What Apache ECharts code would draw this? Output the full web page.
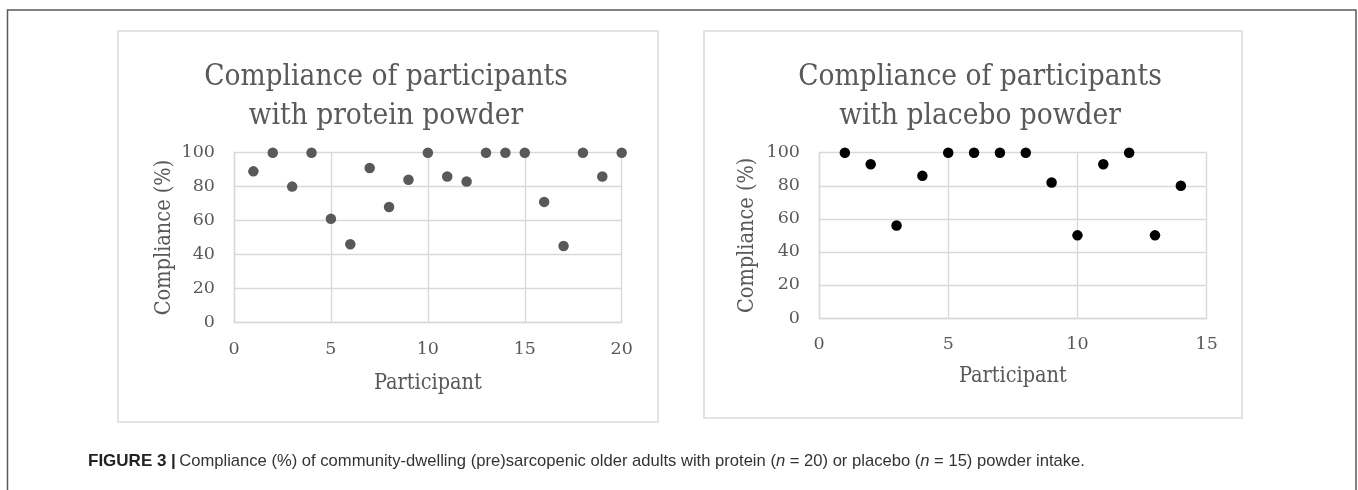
<!DOCTYPE html>
<html>
<head>
<meta charset="utf-8">
<script src="https://cdn.jsdelivr.net/npm/echarts@6/dist/echarts.min.js"></script>
<style>
html,body{margin:0;padding:0;background:#fff;}
#c{width:1358px;height:490px;}
</style>
</head>
<body>
<div id="c"></div>
<script>
// ---- data ----
var proteinParticipants = [1,2,3,4,5,6,7,8,9,10,11,12,13,14,15,16,17,18,19,20];
var proteinCompliance   = [89,100,80,100,61,46,91,68,84,100,86,83,100,100,100,71,45,100,86,100];
var placeboParticipants = [1,2,3,4,5,6,7,8,9,10,11,12,13,14];
var placeboCompliance   = [100,93,56,86,100,100,100,100,82,50,93,100,50,80];
var xTicksProtein = [0,5,10,15,20];
var xTicksPlacebo = [0,5,10,15];
var yTicks = [0,20,40,60,80,100];
var titleProtein = 'Compliance of participants\nwith protein powder';
var titlePlacebo = 'Compliance of participants\nwith placebo powder';
var yName = 'Compliance (%)';
var xName = 'Participant';

function pairs(xs, ys){ return xs.map(function(x,i){ return [x, ys[i]]; }); }

// font availability check (style only)
function hasFont(name){
  var cv = document.createElement('canvas').getContext('2d');
  var s = 'Compliance of participants 0123456789';
  cv.font = '40px monospace'; var a = cv.measureText(s).width;
  cv.font = '40px "' + name + '", monospace'; var b = cv.measureText(s).width;
  return Math.abs(a - b) > 0.5;
}
var cond = hasFont('DejaVu Serif Condensed');
var titleFont = cond ? '"DejaVu Serif Condensed", serif' : '"Liberation Serif", serif';
var titleSize = cond ? 29.5 : 33.5;
var nameSize  = cond ? 21.5 : 23;
var tickFont  = '"DejaVu Serif", "Liberation Serif", serif';
var tickSize  = 17.5;

var txt = '#595959';
var gridCol = '#d9d9d9';

function xAxis(idx, ticks, nameGap, margin){
  return {
    type:'value', gridIndex:idx, min:ticks[0], max:ticks[ticks.length-1], interval:ticks[1]-ticks[0],
    name:xName, nameLocation:'middle', nameGap:nameGap,
    nameTextStyle:{fontFamily:titleFont, fontSize:nameSize, color:txt},
    axisLine:{show:true, onZero:false, lineStyle:{color:gridCol, width:1.4}},
    axisTick:{show:false},
    axisLabel:{fontFamily:tickFont, fontSize:tickSize, color:txt, margin:margin},
    splitLine:{show:true, lineStyle:{color:gridCol, width:1.4}}
  };
}
function yAxis(idx, nameGap){
  return {
    type:'value', gridIndex:idx, min:yTicks[0], max:yTicks[yTicks.length-1], interval:yTicks[1]-yTicks[0],
    name:yName, nameLocation:'middle', nameGap:nameGap, nameRotate:90,
    nameTextStyle:{fontFamily:titleFont, fontSize:nameSize, color:txt},
    axisLine:{show:true, onZero:false, lineStyle:{color:gridCol, width:1.4}},
    axisTick:{show:false},
    axisLabel:{fontFamily:tickFont, fontSize:tickSize, color:txt, margin:19},
    splitLine:{show:true, lineStyle:{color:gridCol, width:1.4}}
  };
}

var chart = echarts.init(document.getElementById('c'), null, {renderer:'canvas'});
chart.setOption({
  animation:false,
  backgroundColor:'#fff',
  title:[
    {text:titleProtein, left:381, top:53, textAlign:'center',
     textStyle:{fontFamily:titleFont, fontSize:titleSize, fontWeight:'normal', color:txt, lineHeight:39}},
    {text:titlePlacebo, left:975, top:53, textAlign:'center',
     textStyle:{fontFamily:titleFont, fontSize:titleSize, fontWeight:'normal', color:txt, lineHeight:39}}
  ],
  grid:[
    {left:234, top:152.7, width:387.7, height:169.6},
    {left:819, top:152.7, width:387.7, height:165.3}
  ],
  xAxis:[ xAxis(0, xTicksProtein, 50, 18), xAxis(1, xTicksPlacebo, 47, 17) ],
  yAxis:[ yAxis(0, 59), yAxis(1, 61) ],
  series:[
    {type:'scatter', xAxisIndex:0, yAxisIndex:0, data:pairs(proteinParticipants, proteinCompliance),
     symbolSize:10.5, itemStyle:{color:'#595959', opacity:1}},
    {type:'scatter', xAxisIndex:1, yAxisIndex:1, data:pairs(placeboParticipants, placeboCompliance),
     symbolSize:10.5, itemStyle:{color:'#000000', opacity:1}}
  ],
  graphic:[
    {type:'polyline', silent:true, z:-1, shape:{points:[[7.5,500],[7.5,10],[1356,10],[1356,500]]},
     style:{stroke:'#5a5a5a', lineWidth:1.5, fill:null}},
    {type:'rect', silent:true, z:-1, shape:{x:118, y:31, width:540, height:391},
     style:{stroke:'#dcdcdc', lineWidth:1.6, fill:'#fff'}},
    {type:'rect', silent:true, z:-1, shape:{x:704, y:31, width:538, height:387},
     style:{stroke:'#dcdcdc', lineWidth:1.6, fill:'#fff'}},
    {type:'text', silent:true, left:88, top:453,
     style:{
       text:'{b|FIGURE 3 |} {r|Compliance (%) of community-dwelling (pre)sarcopenic older adults with protein (}{i|n}{r| = 20) or placebo (}{i|n}{r| = 15) powder intake.}',
       rich:{
         b:{fontFamily:'"Liberation Sans Narrow","Liberation Sans",sans-serif', fontWeight:'bold', fontSize:17, fill:'#222'},
         r:{fontFamily:'"Liberation Sans",sans-serif', fontSize:16.6, fill:'#333'},
         i:{fontFamily:'"Liberation Sans",sans-serif', fontStyle:'italic', fontSize:16.6, fill:'#333'}
       }
     }}
  ]
});
</script>
</body>
</html>
